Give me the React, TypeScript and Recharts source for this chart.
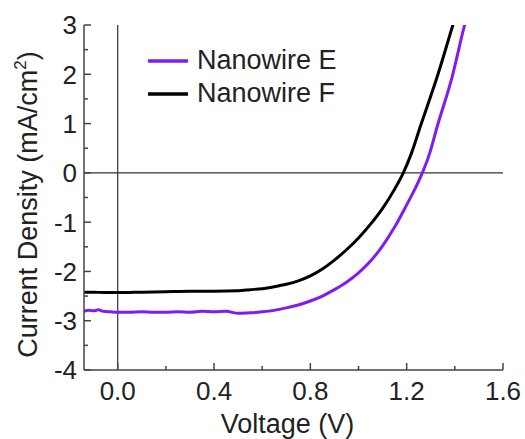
import { LineChart, Line, XAxis, YAxis, ReferenceLine } from 'recharts';

// Nanowire E (purple)
const voltageE = [
  -0.14, -0.12, -0.1, -0.08, -0.06, -0.03, 0.0, 0.05, 0.1, 0.15, 0.2, 0.25, 0.3, 0.35, 0.4, 0.45, 0.5,
  0.55, 0.6, 0.65, 0.7, 0.75, 0.8, 0.85, 0.9, 0.95, 1.0, 1.05, 1.1, 1.15, 1.2, 1.24, 1.265, 1.293, 1.328,
  1.39, 1.439, 1.46,
];
const currentE = [
  -2.81, -2.79, -2.8, -2.78, -2.81, -2.82, -2.83, -2.83, -2.82, -2.83, -2.83, -2.82, -2.83, -2.81, -2.82,
  -2.81, -2.85, -2.84, -2.82, -2.79, -2.74, -2.68, -2.6, -2.5, -2.37, -2.22, -2.03, -1.79, -1.48, -1.1,
  -0.65, -0.27, 0.0, 0.36, 0.96, 1.97, 2.97, 3.35,
];

// Nanowire F (black)
const voltageF = [
  -0.14, -0.1, -0.05, 0.0, 0.1, 0.2, 0.3, 0.4, 0.5, 0.55, 0.6, 0.65, 0.7, 0.75, 0.8, 0.85, 0.9, 0.95, 1.0,
  1.05, 1.1, 1.15, 1.186, 1.22, 1.258, 1.328, 1.39, 1.42,
];
const currentF = [
  -2.42, -2.42, -2.43, -2.43, -2.42, -2.41, -2.4, -2.4, -2.39, -2.37, -2.35, -2.31, -2.26, -2.19, -2.09,
  -1.95, -1.77, -1.56, -1.32, -1.04, -0.72, -0.33, 0.0, 0.4, 0.96, 1.97, 2.97, 3.45,
];

const xTicks = [0, 0.2, 0.4, 0.6, 0.8, 1.0, 1.2, 1.4, 1.6];
const xMajor = [0, 0.4, 0.8, 1.2, 1.6];
const yTicks = [-4, -3.5, -3, -2.5, -2, -1.5, -1, -0.5, 0, 0.5, 1, 1.5, 2, 2.5, 3];
const yMajor = [-4, -3, -2, -1, 0, 1, 2, 3];

const seriesNames = ['Nanowire E', 'Nanowire F'];
const seriesColors = ['#7d1cf5', '#000000'];

const dataE = voltageE.map((v, i) => ({ v, j: currentE[i] }));
const dataF = voltageF.map((v, i) => ({ v, j: currentF[i] }));

const FONT = '"Liberation Sans", Arial, sans-serif';
const AXIS = '#444';
const TEXT = '#222';
const X_MARGIN = 12;
const Y_MARGIN = 7;

const isIn = (list: number[], v: number) => list.some((m) => Math.abs(m - v) < 1e-6);

const bottomTick = (p: any) => {
  const v = p.payload.value;
  const major = isIn(xMajor, v);
  const ay = p.y - X_MARGIN;
  return (
    <g>
      <line x1={p.x} x2={p.x} y1={ay} y2={ay - (major ? 7 : 4)} stroke={AXIS} strokeWidth={1.5} />
      {major && (
        <text x={p.x} y={p.y} dy="0.71em" textAnchor="middle" fontSize={26} fontFamily={FONT} fill={TEXT}>
          {v.toFixed(1)}
        </text>
      )}
    </g>
  );
};

const topTick = (p: any) => {
  const major = isIn(xMajor, p.payload.value);
  return <line x1={p.x} x2={p.x} y1={p.y} y2={p.y + (major ? 7 : 4)} stroke={AXIS} strokeWidth={1.5} />;
};

const leftTick = (p: any) => {
  const v = p.payload.value;
  const major = isIn(yMajor, v);
  const ax = p.x + Y_MARGIN;
  return (
    <g>
      <line x1={ax} x2={ax + (major ? 7 : 4)} y1={p.y} y2={p.y} stroke={AXIS} strokeWidth={1.5} />
      {major && (
        <text x={p.x} y={p.y} dy="0.36em" textAnchor="end" fontSize={26} fontFamily={FONT} fill={TEXT}>
          {v}
        </text>
      )}
    </g>
  );
};

const rightTick = (p: any) => {
  const major = isIn(yMajor, p.payload.value);
  return <line x1={p.x} x2={p.x - (major ? 7 : 4)} y1={p.y} y2={p.y} stroke={AXIS} strokeWidth={1.5} />;
};

const App = () => {
  return (
    <div style={{ position: 'absolute', left: 0, top: 0, width: 525, height: 439, background: '#fff' }}>
      <LineChart width={525} height={439} margin={{ top: 25, right: 22, bottom: 0, left: 0 }}>
        <XAxis
          xAxisId="bottom"
          dataKey="v"
          type="number"
          domain={[-0.14, 1.6]}
          allowDataOverflow
          ticks={xTicks}
          interval={0}
          height={69}
          tickSize={0}
          tickMargin={X_MARGIN}
          tickLine={false}
          tick={bottomTick}
          axisLine={{ stroke: AXIS, strokeWidth: 1.5 }}
          label={{
            content: (p: any) => {
              const vb = p.viewBox;
              return (
                <text
                  x={vb.x + vb.width / 2 - 6}
                  y={vb.y + vb.height - 6}
                  textAnchor="middle"
                  fontSize={27}
                  fontFamily={FONT}
                  fill={TEXT}
                >
                  Voltage (V)
                </text>
              );
            },
          }}
        />
        <XAxis
          xAxisId="top"
          orientation="top"
          dataKey="v"
          type="number"
          domain={[-0.14, 1.6]}
          allowDataOverflow
          ticks={xTicks}
          interval={0}
          height={0}
          tickSize={0}
          tickMargin={0}
          tickLine={false}
          tick={topTick}
          axisLine={{ stroke: AXIS, strokeWidth: 1.5 }}
        />
        <YAxis
          yAxisId="left"
          type="number"
          domain={[-4, 3]}
          allowDataOverflow
          ticks={yTicks}
          interval={0}
          width={84}
          tickSize={0}
          tickMargin={Y_MARGIN}
          tickLine={false}
          tick={leftTick}
          axisLine={{ stroke: AXIS, strokeWidth: 1.5 }}
          label={{
            content: (p: any) => {
              const vb = p.viewBox;
              const cx = 37;
              const cy = vb.y + vb.height / 2 + 7;
              return (
                <text
                  x={cx}
                  y={cy}
                  transform={`rotate(-90 ${cx} ${cy})`}
                  textAnchor="middle"
                  fontSize={27}
                  fontFamily={FONT}
                  fill={TEXT}
                >
                  Current Density (mA/cm
                  <tspan dy={-11} fontSize={17}>
                    2
                  </tspan>
                  <tspan dy={11}>)</tspan>
                </text>
              );
            },
          }}
        />
        <YAxis
          yAxisId="right"
          orientation="right"
          type="number"
          domain={[-4, 3]}
          allowDataOverflow
          ticks={yTicks}
          interval={0}
          width={0}
          tickSize={0}
          tickMargin={0}
          tickLine={false}
          tick={rightTick}
          axisLine={{ stroke: AXIS, strokeWidth: 1.5 }}
        />
        <ReferenceLine xAxisId="bottom" yAxisId="left" y={0} stroke="#333" strokeWidth={1.2} />
        <ReferenceLine xAxisId="bottom" yAxisId="left" x={0} stroke="#333" strokeWidth={1.2} />
        <Line
          xAxisId="bottom"
          yAxisId="left"
          data={dataE}
          dataKey="j"
          name={seriesNames[0]}
          type="monotone"
          stroke={seriesColors[0]}
          strokeWidth={3}
          dot={false}
          isAnimationActive={false}
        />
        <Line
          xAxisId="bottom"
          yAxisId="left"
          data={dataF}
          dataKey="j"
          name={seriesNames[1]}
          type="monotone"
          stroke={seriesColors[1]}
          strokeWidth={3}
          dot={false}
          isAnimationActive={false}
        />
      </LineChart>
      <div style={{ position: 'absolute', left: 148, top: 44, fontFamily: FONT, fontSize: 27, color: TEXT }}>
        {seriesNames.map((name, i) => (
          <div key={name} style={{ display: 'flex', alignItems: 'center', height: 33 }}>
            <svg width={40} height={6} style={{ marginRight: 9 }}>
              <line x1={0} x2={40} y1={3} y2={3} stroke={seriesColors[i]} strokeWidth={3.5} />
            </svg>
            <span style={{ lineHeight: '33px' }}>{name}</span>
          </div>
        ))}
      </div>
    </div>
  );
};

export default App;
